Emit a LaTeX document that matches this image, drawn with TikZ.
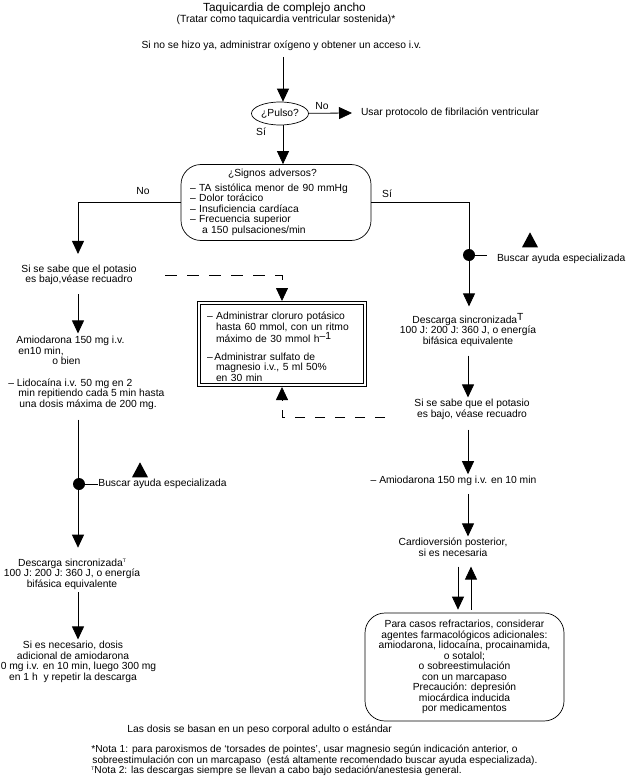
\documentclass[tikz,border=0pt]{standalone}
\usepackage{fontspec}
\setmainfont{Liberation Sans}
\usetikzlibrary{positioning, shapes.geometric, arrows.meta}
\tikzset{
  every node/.style={font=\fontsize{10.3}{10.5}\selectfont},
  txt/.style={inner sep=0pt, outer ysep=2pt, align=center},
  note/.style={inner sep=0pt, align=left, anchor=west},
  roundbox/.style={draw, line width=0.7pt, rounded corners=20pt, inner sep=0pt},
  warnsign/.style={isosceles triangle, isosceles triangle stretches, shape border rotate=90,
    fill=black, inner sep=0pt, minimum width=16pt, minimum height=15pt},
  junction/.style={circle, fill=black, inner sep=0pt, minimum size=12pt},
  dashline/.style={line width=0.8pt, dash pattern=on 12pt off 10pt}
}
\newcommand{\bigT}{\raisebox{3pt}{T}}
\newcommand{\smallT}{\raisebox{3.5pt}{\fontsize{5}{5}\selectfont T}}
\begin{document}
\begin{tikzpicture}[x=1pt, y=-1pt, line width=0.8pt, >={Triangle[length=13pt, width=12pt]}]
  \useasboundingbox (0,0) rectangle (626,781);

  % columns of the vertical arrows
  \coordinate (colL) at (78,0);
  \coordinate (colC) at (283,0);
  \coordinate (colR) at (468,0);
  \coordinate (colDown) at (458,0);
  \coordinate (colUp) at (471,0);

  % head
  \node [txt, font=\fontsize{11.8}{12}\selectfont] (title) at (284.5,8.5) {Taquicardia de complejo ancho};
  \node [txt, font=\fontsize{10.4}{10.5}\selectfont] (subtitle) at (286,20) {(Tratar como taquicardia ventricular sostenida)*};
  \node [txt] (oxygen) at (281.5,46) {Si no se hizo ya, administrar oxígeno y obtener un acceso i.v.};
  \node [draw, ellipse, line width=0.7pt, inner sep=0pt, minimum width=57pt, minimum height=23pt] (pulse) at (280,113.5) {¿Pulso?};
  \node [note, outer xsep=9pt] (protocol) at (352,113) {Usar protocolo de fibrilación ventricular};

  % boxes
  \node [roundbox, minimum width=190pt, minimum height=76pt, text width=172pt, align=left] (adverse) at (276,202.5) {%
    \hspace*{38pt}¿Signos adversos?\\[4pt]
    -- TA sistólica menor de 90 mmHg\\
    -- Dolor torácico\\
    -- Insuficiencia cardíaca\\
    -- Frecuencia superior\\
    \hspace*{12pt}a 150 pulsaciones/min};
  \node [draw, double, double distance=2.6pt, inner xsep=8pt, inner ysep=0pt, outer sep=2pt, text width=150pt, align=left, minimum height=82pt] (potassium) at (282,344) {%
    \rule{0pt}{13pt}-- Administrar cloruro potásico\\
    \hspace*{9pt}hasta 60 mmol, con un ritmo\\
    \hspace*{9pt}máximo de 30 mmol h\raisebox{3pt}{--1}\\[7pt]
    --\,Administrar sulfato de\\
    \hspace*{9pt}magnesio i.v., 5 ml 50\%\\
    \hspace*{9pt}en 30 min};
  \node [roundbox, minimum width=199pt, minimum height=108pt, align=center] (refractory) at (464.5,667) {%
    Para casos refractarios, considerar\\
    agentes farmacológicos adicionales:\\
    amiodarona, lidocaína, procainamida,\\
    o sotalol;\\
    o sobreestimulación\\
    con un marcapaso\\
    Precaución: depresión\\
    miocárdica inducida\\
    por medicamentos};

  % left branch
  \node [txt] (lowL) at (79,275) {Si se sabe que el potasio\\es bajo,véase recuadro};
  \node [txt, align=left, anchor=west] (drugL) at (8,373) {%
    \hspace*{8pt}Amiodarona 150 mg i.v.\\
    \hspace*{10pt}en10 min,\\
    \hspace*{44pt}o bien\\[11pt]
    -- Lidocaína i.v. 50 mg en 2\\
    \hspace*{10pt}min repitiendo cada 5 min hasta\\
    \hspace*{11pt}una dosis máxima de 200 mg.};
  \node [junction] (dotL) at (79,484) {};
  \node [note] (helpL) at (98,484) {Buscar ayuda especializada};
  \node [warnsign] (warnL) at (140,472.5) {};
  \node [txt] (shockL) at (72,574) {Descarga sincronizada\smallT\\100 J: 200 J: 360 J, o energía\\bifásica equivalente};
  \node [txt] (moreL) at (73,662) {Si es necesario, dosis\\adicional de amiodarona\\\hspace*{11pt}0 mg i.v. en 10 min, luego 300 mg\\en 1 h\ \ y repetir la descarga};

  % right branch
  \node [junction] (dotR) at (469,255) {};
  \node [note, outer xsep=10pt] (helpR) at (487,259) {Buscar ayuda especializada};
  \node [warnsign] (warnR) at (530,242.5) {};
  \node [txt] (shockR) at (468,330) {Descarga sincronizada\bigT\\100 J: 200 J: 360 J, o energía\\bifásica equivalente};
  \node [txt] (lowR) at (472,409.5) {Si se sabe que el potasio\\es bajo, véase recuadro};
  \node [txt] (drugR) at (453.5,481) {-- Amiodarona 150 mg i.v. en 10 min};
  \node [txt] (cardio) at (453,547.5) {Cardioversión posterior,\\si es necesaria};

  % labels of the branches
  \node [txt] (noPulse) at (322,106) {No};
  \node [txt] (yesPulse) at (261,132) {Sí};
  \node [txt] (noAdverse) at (143,191) {No};
  \node [txt] (yesAdverse) at (387,194) {Sí};

  % foot
  \node [note] (doses) at (127,730) {Las dosis se basan en un peso corporal adulto o estándar};
  \node [note, font=\fontsize{10.2}{10.5}\selectfont] (notes) at (91,760.5) {%
    *Nota 1: para paroxismos de ‘torsades de pointes’, usar magnesio según indicación anterior, o\\
    \hspace*{1pt}sobreestimulación con un marcapaso\ \ (está altamente recomendado buscar ayuda especializada).\\
    \smallT Nota 2: las descargas siempre se llevan a cabo bajo sedación/anestesia general.};

  % free ends of the dashed lines
  \coordinate (dashL) at (165,275);
  \coordinate (dashR) at (385,417);

  % vertical arrows: column / from / to / gap at start / gap at tip
  \foreach \c/\a/\b/\s/\e in {
      colC/oxygen/pulse/4/0, colC/pulse/adverse/0/0,
      colL/lowL/drugL/7/1, colL/drugL/shockL/8/9, colL/shockL/moreL/1/0,
      colR/shockR/lowR/7/0, colR/lowR/drugR/8/0, colR/drugR/cardio/6/0,
      colDown/cardio/refractory/8/3}
    \draw [->, shorten <=\s pt, shorten >=\e pt] (\c |- \a.south) -- (\c |- \b.north);
  \draw [->, shorten <=3pt, shorten >=8pt] (colUp |- refractory.north) -- (colUp |- cardio.south);

  % connectors
  \draw [->] (pulse) -- (protocol.west);
  \draw [->, shorten >=9pt] (adverse.west) -| (colL |- lowL.north);
  \draw (adverse.east) -| (dotR);
  \draw [->, shorten >=5pt] (dotR) -- (dotR |- shockR.north);
  \draw (dotR) -- (dotR -| helpR.west);
  \draw (dotL) -- (helpL.west);
  \draw [->, dashline] (dashL) -| (potassium.north);
  \draw [->, dashline, dash pattern=on 10pt off 10pt] (dashR) -| (potassium.south);
\end{tikzpicture}
\end{document}
